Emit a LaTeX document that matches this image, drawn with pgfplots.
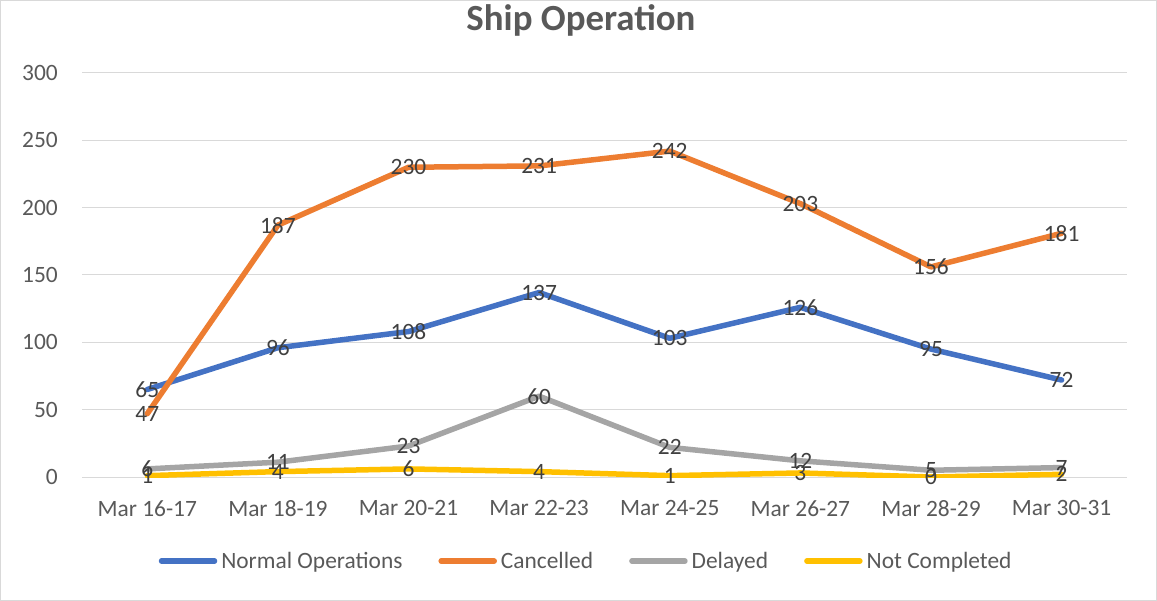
\documentclass[border=0pt]{standalone}
\usepackage{pgfplots}
\pgfplotsset{compat=1.18}
\usepackage{pgfplotstable}
\usepackage{fontspec}
\setmainfont{Carlito}
\definecolor{cblue}{HTML}{4472C4}
\definecolor{corange}{HTML}{ED7D31}
\definecolor{cgray}{HTML}{A5A5A5}
\definecolor{cyellow}{HTML}{FFC000}
\definecolor{ctext}{HTML}{595959}
\definecolor{clabel}{HTML}{404040}
\definecolor{cgrid}{HTML}{D9D9D9}
\pgfplotstableread{
x normal cancelled delayed notcompleted
0 65 47 6 1
1 96 187 11 4
2 108 230 23 6
3 137 231 60 4
4 103 242 22 1
5 126 203 12 3
6 95 156 5 0
7 72 181 7 2
}\datatable
\begin{document}
\begin{tikzpicture}
\begin{axis}[
  scale only axis,
  width=1045bp, height=404bp,
  at={(0,0)}, anchor=south west,
  xmin=-0.5, xmax=7.5,
  ymin=0, ymax=300,
  xtick=data,
  xticklabels={Mar 16-17,Mar 18-19,Mar 20-21,Mar 22-23,Mar 24-25,Mar 26-27,Mar 28-29,Mar 30-31},
  ytick={0,50,100,150,200,250,300},
  axis line style={draw=none},
  major tick length=0pt,
  ymajorgrids,
  grid style={cgrid, line width=1bp},
  tick label style={font=\fontsize{23.5}{28}\selectfont, text=ctext},
  yticklabel style={inner sep=0pt, anchor=east, xshift=-24bp},
  xticklabel style={inner sep=0pt, anchor=north, yshift=-23bp},
  /pgf/number format/assume math mode=true,
  title={Ship Operation},
  title style={at={(0.4775,1.091)}, anchor=base, inner sep=0pt, font=\fontsize{37}{42}\selectfont\bfseries, text=ctext},
  legend style={at={(0.482,-0.208)}, anchor=center, draw=none, fill=none,
    legend columns=-1, font=\fontsize{23.5}{28}\selectfont, text=ctext,
    /tikz/every even column/.append style={column sep=35bp},
    /tikz/every odd column/.append style={column sep=3bp},
    nodes={inner sep=1bp}},
  legend image code/.code={\draw[#1, line width=5.5bp, line cap=round] (0bp,0bp) -- (53bp,0bp);},
  nodes near coords style={anchor=center, inner sep=0pt, font=\fontsize{23.5}{28}\selectfont, text=clabel},
]
\addplot[cblue, mark=none, line width=5.5bp, line join=round, line cap=round] table[x=x, y=normal] {\datatable};
\addlegendentry{Normal Operations}
\addplot[corange, mark=none, line width=5.5bp, line join=round, line cap=round] table[x=x, y=cancelled] {\datatable};
\addlegendentry{Cancelled}
\addplot[cgray, mark=none, line width=5.5bp, line join=round, line cap=round] table[x=x, y=delayed] {\datatable};
\addlegendentry{Delayed}
\addplot[cyellow, mark=none, line width=5.5bp, line join=round, line cap=round] table[x=x, y=notcompleted] {\datatable};
\addlegendentry{Not Completed}
\addplot[draw=none, mark=none, nodes near coords, forget plot] table[x=x, y=normal] {\datatable};
\addplot[draw=none, mark=none, nodes near coords, forget plot] table[x=x, y=cancelled] {\datatable};
\addplot[draw=none, mark=none, nodes near coords, forget plot] table[x=x, y=delayed] {\datatable};
\addplot[draw=none, mark=none, nodes near coords, forget plot] table[x=x, y=notcompleted] {\datatable};
\end{axis}
\pgfresetboundingbox
\draw[cgrid, line width=1bp] (-81.5bp,-123.5bp) rectangle (1074.5bp,476.5bp);
\useasboundingbox (-82bp,-124bp) rectangle (1075bp,477bp);
\end{tikzpicture}
\end{document}
